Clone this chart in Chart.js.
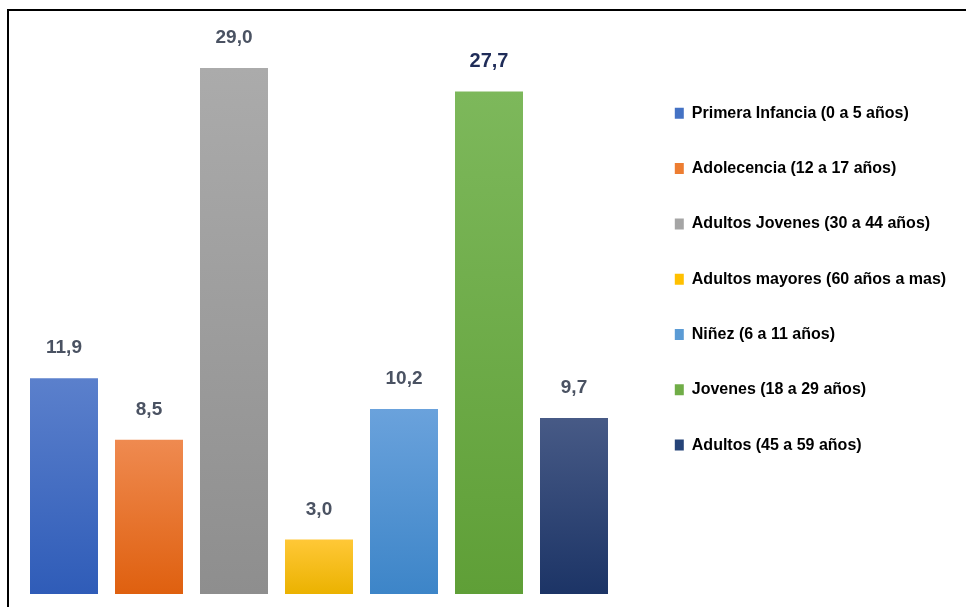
<!DOCTYPE html>
<html>
<head>
<meta charset="utf-8">
<script src="https://cdn.jsdelivr.net/npm/chart.js@4.4.1/dist/chart.umd.min.js"></script>
<style>
  html, body { margin: 0; padding: 0; background: #fff; overflow: hidden; }
  #frame { position: absolute; left: 7px; top: 9px; width: 980px; height: 620px;
           border-left: 2px solid #000; border-top: 2px solid #000; }
  #c { position: absolute; left: 0; top: 0; }
</style>
</head>
<body>
<div id="frame"></div>
<canvas id="c" width="966" height="607"></canvas>
<script>
// data
const groups = [
  'Primera Infancia (0 a 5 años)',
  'Adolecencia (12 a 17 años)',
  'Adultos Jovenes (30 a 44 años)',
  'Adultos mayores (60 años a mas)',
  'Niñez (6 a 11 años)',
  'Jovenes (18 a 29 años)',
  'Adultos (45 a 59 años)'
];
const percents = [11.9, 8.5, 29.0, 3.0, 10.2, 27.7, 9.7];

// colours (legend swatch, bar top, bar bottom)
const solid = ['#4472c4', '#ed7d31', '#a5a5a5', '#ffc000', '#5b9bd5', '#70ad47', '#264478'];
const topCol = ['#5b80cc', '#ef8a50', '#ababab', '#ffc837', '#6aa2dc', '#7db85b', '#475a86'];
const botCol = ['#2f5cb8', '#df600f', '#8e8e8e', '#ebb200', '#3d85c8', '#5f9f37', '#1c3466'];

const sans = "'Liberation Sans', Arial, sans-serif";

function barFill(c) {
  const chart = c.chart;
  const i = c.dataIndex;
  if (!chart.chartArea || !chart.scales.y) return solid[i];
  const y = chart.scales.y;
  const top = y.getPixelForValue(percents[i]);
  const bottom = y.getPixelForValue(0);
  const g = chart.ctx.createLinearGradient(0, top, 0, bottom);
  g.addColorStop(0, topCol[i]);
  g.addColorStop(1, botCol[i]);
  return g;
}

function fmt(v) {
  return v.toFixed(1).replace('.', ',');
}

// value labels above the bars
const valueLabels = {
  id: 'valueLabels',
  afterDatasetsDraw(chart) {
    const meta = chart.getDatasetMeta(0);
    const c = chart.ctx;
    c.save();
    c.textAlign = 'center';
    c.textBaseline = 'middle';
    meta.data.forEach(function (bar, i) {
      if (i === 5) {
        c.font = 'bold 20px ' + sans;
        c.fillStyle = '#1f2c58';
      } else {
        c.font = 'bold 19px ' + sans;
        c.fillStyle = '#4a5262';
      }
      c.fillText(fmt(percents[i]), bar.x, bar.y - 30);
    });
    c.restore();
  }
};

// leave a gap between the bars and the legend column
const legendGap = {
  id: 'legendGap',
  afterLayout(chart) {
    const lg = chart.legend;
    lg.left += 19;
    lg.right = chart.width;
    lg.width = lg.right - lg.left;
    lg.top -= 2;
  }
};

const ctx = document.getElementById('c').getContext('2d');
const chart = new Chart(ctx, {
  type: 'bar',
  data: {
    labels: groups,
    datasets: [{
      data: percents,
      backgroundColor: barFill,
      borderWidth: 0,
      barPercentage: 0.8,
      categoryPercentage: 1.0
    }]
  },
  options: {
    responsive: false,
    animation: false,
    layout: {
      padding: { left: 21.5, top: 68, bottom: 13, right: 49.5 }
    },
    scales: {
      x: { display: false },
      y: { display: false, min: 0, max: 29 }
    },
    plugins: {
      tooltip: { enabled: false },
      legend: {
        position: 'right',
        align: 'start',
        maxWidth: 300,
        labels: {
          boxWidth: 9,
          boxHeight: 11,
          padding: 39.3,
          color: '#3b4150',
          font: { family: sans, size: 16, weight: 'bold' },
          generateLabels: function () {
            return groups.map(function (g, i) {
              return { text: g, fillStyle: solid[i], strokeStyle: solid[i], lineWidth: 0, hidden: false, index: i };
            });
          }
        }
      }
    }
  },
  plugins: [valueLabels, legendGap]
});
</script>
</body>
</html>
